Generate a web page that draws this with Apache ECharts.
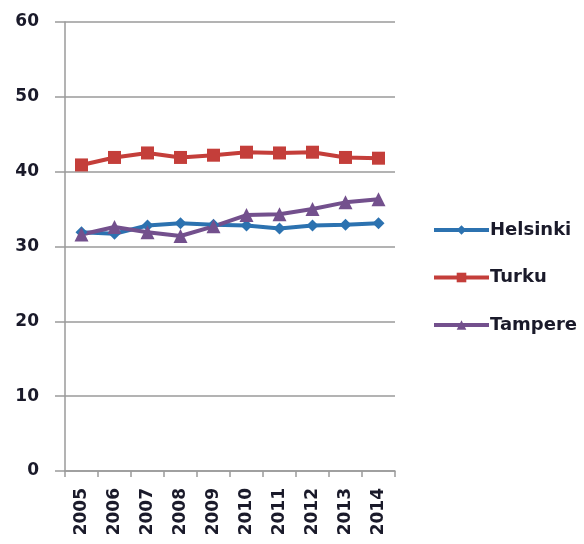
<!DOCTYPE html>
<html><head><meta charset="utf-8">
<script src="https://cdn.jsdelivr.net/npm/echarts@6/dist/echarts.min.js"></script>
<style>html,body{margin:0;padding:0;background:#fff}#c{width:584px;height:544px}</style>
</head><body><div id="c"></div>
<script>
const years = ['2005','2006','2007','2008','2009','2010','2011','2012','2013','2014'];
const helsinki = [31.9,31.7,32.8,33.1,32.9,32.8,32.4,32.8,32.9,33.1];
const turku = [40.9,41.9,42.5,41.9,42.2,42.6,42.5,42.6,41.9,41.8];
const tampere = [31.6,32.6,31.9,31.4,32.7,34.2,34.3,35.0,35.9,36.3];
const yTicks = {min:0, max:60, interval:10};

const chart = echarts.init(document.getElementById('c'));
const font = '"DejaVu Sans", sans-serif';
function s(name, data, color, symbol, size){
  return {name, type:'line', data, symbol, symbolSize:size,
    lineStyle:{color, width:4}, itemStyle:{color},
    emphasis:{disabled:true}, animation:false};
}
chart.setOption({
  animation:false,
  grid:{left:65, right:189, top:22, bottom:73},
  legend:{orient:'vertical', left:427, top:216, itemGap:29.5, itemWidth:55, itemHeight:12,
    lineStyle:{width:4},
    textStyle:{fontFamily:font, fontWeight:'bold', fontSize:18, color:'#1a1a2a', padding:[0,0,0,-4]},
    data:['Helsinki','Turku','Tampere']},
  xAxis:{type:'category', data:years, boundaryGap:true,
    axisLine:{lineStyle:{color:'#9a9a9a', width:1.5}},
    axisTick:{show:true, length:6, lineStyle:{color:'#9a9a9a', width:1.5}},
    axisLabel:{rotate:90, margin:17, fontFamily:font, fontWeight:'bold', fontSize:17, color:'#1a1a2a'}},
  yAxis:{type:'value', min:yTicks.min, max:yTicks.max, interval:yTicks.interval,
    axisLine:{show:true, lineStyle:{color:'#9a9a9a', width:1.5}},
    axisTick:{show:true, length:10, lineStyle:{color:'#9a9a9a', width:1.5}},
    splitLine:{lineStyle:{color:'#9a9a9a', width:1.5}},
    axisLabel:{margin:26, fontFamily:font, fontWeight:'bold', fontSize:17, color:'#1a1a2a'}},
  series:[
    s('Helsinki', helsinki, '#2C72B0', 'diamond', 12),
    s('Turku', turku, '#C43E3A', 'rect', 13),
    s('Tampere', tampere, '#73508D', 'triangle', 14)
  ]
});
</script></body></html>
